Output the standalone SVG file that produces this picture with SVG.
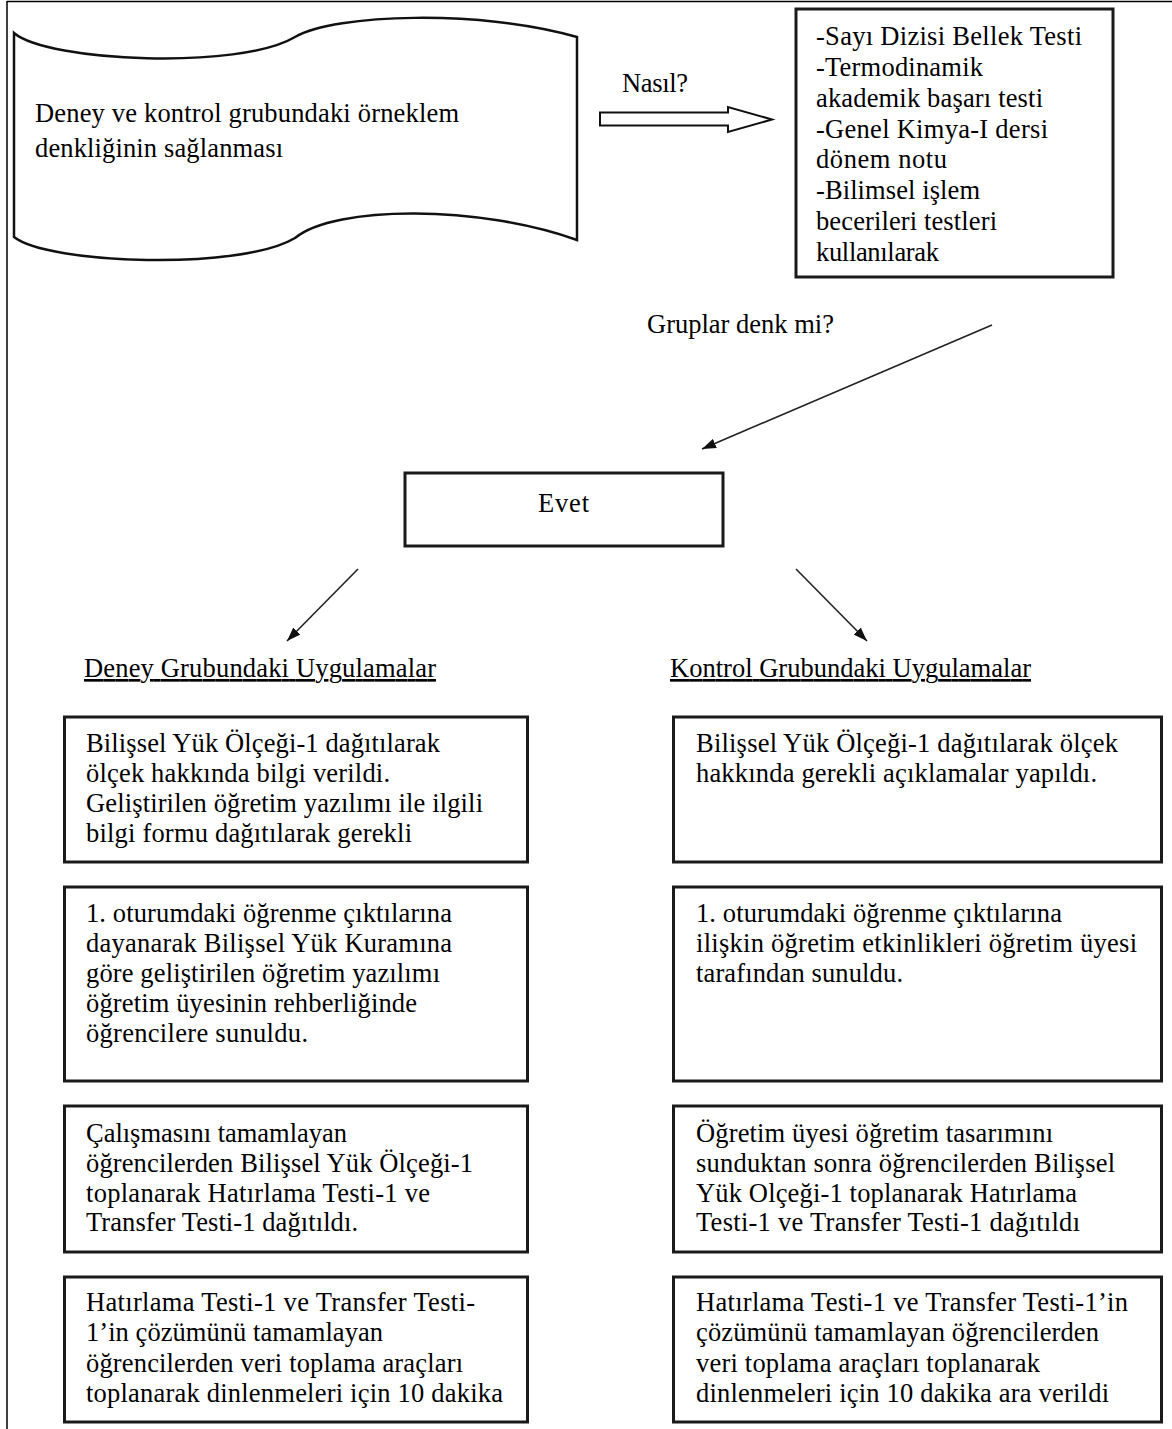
<svg xmlns="http://www.w3.org/2000/svg" width="1172" height="1429" viewBox="0 0 1172 1429">
<style>
  text { font-family: "Liberation Serif", "Times New Roman", serif; font-size: 26.5px; fill: #000; }
  .box { fill: #fff; stroke: #1a1a1a; stroke-width: 3; }
  .doc { fill: #fff; stroke: #111; stroke-width: 2.5; }
  .conn { stroke: #222; stroke-width: 1.6; fill: none; }
  .hollow { fill: #fff; stroke: #111; stroke-width: 2; }
  .ul { text-decoration: underline; }
  .frame { stroke: #000; stroke-width: 1.5; }
</style>
<defs>
  <marker id="ah" viewBox="0 0 14 10" refX="14" refY="5" markerWidth="14" markerHeight="10" orient="auto" markerUnits="userSpaceOnUse">
    <path d="M0,0 L14,5 L0,10 z" fill="#111"/>
  </marker>
</defs>
<rect x="0" y="0" width="1172" height="1429" fill="#fff"/>
<g id="frame">
  <line class="frame" x1="7" y1="1.5" x2="1172" y2="1.5"/>
  <line class="frame" x1="7" y1="1" x2="7" y2="1429"/>
</g>

<g id="connectors">
  <polygon class="hollow" points="600,112.5 728,112.5 728,107 772,119.5 728,132 728,125.5 600,125.5"/>
  <text x="622" y="92" textLength="66">Nasıl?</text>
  <text x="647" y="333" textLength="187">Gruplar denk mi?</text>
  <line class="conn" x1="992" y1="325" x2="702" y2="449" marker-end="url(#ah)"/>
  <line class="conn" x1="358" y1="569" x2="287" y2="641" marker-end="url(#ah)"/>
  <line class="conn" x1="796" y1="569" x2="867" y2="641" marker-end="url(#ah)"/>
</g>

<g id="node-denklik">
  <path class="doc" d="M14,33 C48,62 240,70 295,37 C335,14 480,9 577,37 L577,240 C480,205 335,205 295,238 C240,271 48,264 14,237 Z"/>
  <text x="35" y="122" textLength="424">Deney ve kontrol grubundaki örneklem</text>
  <text x="35" y="157" textLength="248">denkliğinin sağlanması</text>
</g>

<g id="node-testler">
  <rect class="box" x="796" y="9" width="317" height="268"/>
  <text x="816" y="45" textLength="266">-Sayı Dizisi Bellek Testi</text>
  <text x="816" y="76" textLength="167">-Termodinamik</text>
  <text x="816" y="107" textLength="227">akademik başarı testi</text>
  <text x="816" y="138" textLength="232">-Genel Kimya-I dersi</text>
  <text x="816" y="168" textLength="131">dönem notu</text>
  <text x="816" y="199" textLength="164">-Bilimsel işlem</text>
  <text x="816" y="230" textLength="181">becerileri testleri</text>
  <text x="816" y="261" textLength="123">kullanılarak</text>
</g>

<g id="node-evet">
  <rect class="box" x="405" y="473" width="318" height="73"/>
  <text x="538" y="512" textLength="51">Evet</text>
</g>

<g id="heading-deney">
  <text class="ul" x="84" y="677" textLength="352">Deney Grubundaki Uygulamalar</text>
</g>
<g id="heading-kontrol">
  <text class="ul" x="670" y="677" textLength="361">Kontrol Grubundaki Uygulamalar</text>
</g>

<g id="node-deney-1">
  <rect class="box" x="64.5" y="717" width="463" height="145"/>
  <text x="86" y="752" textLength="354">Bilişsel Yük Ölçeği-1 dağıtılarak</text>
  <text x="86" y="782" textLength="304">ölçek hakkında bilgi verildi.</text>
  <text x="86" y="812" textLength="397">Geliştirilen öğretim yazılımı ile ilgili</text>
  <text x="86" y="842" textLength="326">bilgi formu dağıtılarak gerekli</text>
</g>
<g id="node-deney-2">
  <rect class="box" x="64.5" y="887" width="463" height="194"/>
  <text x="86" y="922" textLength="366">1. oturumdaki öğrenme çıktılarına</text>
  <text x="86" y="952" textLength="366">dayanarak Bilişsel Yük Kuramına</text>
  <text x="86" y="982" textLength="354">göre geliştirilen öğretim yazılımı</text>
  <text x="86" y="1012" textLength="331">öğretim üyesinin rehberliğinde</text>
  <text x="86" y="1042" textLength="222">öğrencilere sunuldu.</text>
</g>
<g id="node-deney-3">
  <rect class="box" x="64.5" y="1106" width="463" height="146"/>
  <text x="86" y="1142" textLength="261">Çalışmasını tamamlayan</text>
  <text x="86" y="1172" textLength="387">öğrencilerden Bilişsel Yük Ölçeği-1</text>
  <text x="86" y="1202" textLength="344">toplanarak Hatırlama Testi-1 ve</text>
  <text x="86" y="1231" textLength="272">Transfer Testi-1 dağıtıldı.</text>
</g>
<g id="node-deney-4">
  <rect class="box" x="64.5" y="1277" width="463" height="145"/>
  <text x="86" y="1311" textLength="389">Hatırlama Testi-1 ve Transfer Testi-</text>
  <text x="86" y="1341" textLength="297">1’in çözümünü tamamlayan</text>
  <text x="86" y="1372" textLength="377">öğrencilerden veri toplama araçları</text>
  <text x="86" y="1402" textLength="417">toplanarak dinlenmeleri için 10 dakika</text>
</g>

<g id="node-kontrol-1">
  <rect class="box" x="673.5" y="717" width="488" height="145"/>
  <text x="696" y="752" textLength="422">Bilişsel Yük Ölçeği-1 dağıtılarak ölçek</text>
  <text x="696" y="782" textLength="401">hakkında gerekli açıklamalar yapıldı.</text>
</g>
<g id="node-kontrol-2">
  <rect class="box" x="673.5" y="887" width="488" height="194"/>
  <text x="696" y="922" textLength="366">1. oturumdaki öğrenme çıktılarına</text>
  <text x="696" y="952" textLength="441">ilişkin öğretim etkinlikleri öğretim üyesi</text>
  <text x="696" y="982" textLength="207">tarafından sunuldu.</text>
</g>
<g id="node-kontrol-3">
  <rect class="box" x="673.5" y="1106" width="488" height="146"/>
  <text x="696" y="1142" textLength="357">Öğretim üyesi öğretim tasarımını</text>
  <text x="696" y="1172" textLength="419">sunduktan sonra öğrencilerden Bilişsel</text>
  <text x="696" y="1202" textLength="381">Yük Olçeği-1 toplanarak Hatırlama</text>
  <text x="696" y="1231" textLength="384">Testi-1 ve Transfer Testi-1 dağıtıldı</text>
</g>
<g id="node-kontrol-4">
  <rect class="box" x="673.5" y="1277" width="488" height="145"/>
  <text x="696" y="1311" textLength="432">Hatırlama Testi-1 ve Transfer Testi-1’in</text>
  <text x="696" y="1341" textLength="403">çözümünü tamamlayan öğrencilerden</text>
  <text x="696" y="1372" textLength="344">veri toplama araçları toplanarak</text>
  <text x="696" y="1402" textLength="413">dinlenmeleri için 10 dakika ara verildi</text>
</g>
</svg>
